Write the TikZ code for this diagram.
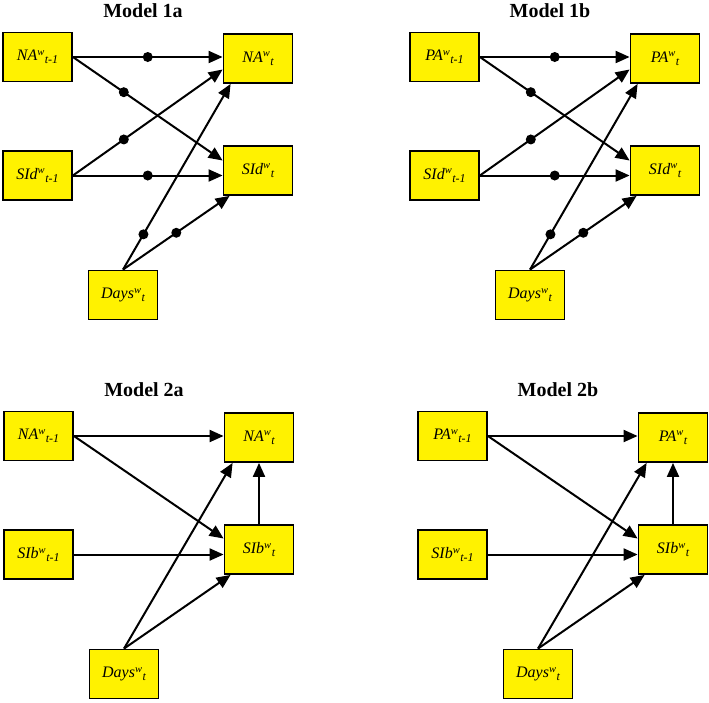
\documentclass[tikz,border=0pt]{standalone}
\usepackage{fontspec}
\setmainfont{Liberation Serif}
\usetikzlibrary{arrows.meta,calc}
\newcommand{\vlab}[2]{\textit{#1\raisebox{5.5pt}{\fontsize{10.5}{10.5}\selectfont w}\kern0.5pt\raisebox{-3pt}{\fontsize{12}{12}\selectfont #2}}}
\tikzset{
  box/.style={draw=black, line width=1.8pt, fill=yellow, minimum width=69pt, minimum height=49pt, inner sep=0pt, font=\fontsize{16}{16}\selectfont},
  arr/.style={line width=2pt, -{Triangle[length=14pt,width=12pt]}},
  dot/.style={circle, fill=black, inner sep=0pt, minimum size=10pt},
  ttl/.style={font=\bfseries\fontsize{20}{20}\selectfont}
}
\newcommand{\panelnodes}[6]{%
  \begin{scope}[shift={(#2,#3)}]
    \node[ttl] (#1T) at (143,11) {#6};
    \node[box] (#1A1) at (37.5,57) {\vlab{#4}{t-1}};
    \node[box] (#1A2) at (258,58.5) {\vlab{#4}{t}};
    \node[box] (#1S1) at (37.5,175.5) {\vlab{SI#5}{t-1}};
    \node[box] (#1S2) at (258,170.5) {\vlab{SI#5}{t}};
    \node[box] (#1D) at (123,295) {\vlab{Days}{t}};
  \end{scope}}
\newcommand{\topedges}[1]{%
  \draw[arr] (#1A1.east) -- node[dot]{} (#1A1.east -| #1A2.west);
  \draw[arr] (#1A1.east) -- node[dot,pos=0.34]{} ($(#1S2.west)+(0,-10)$);
  \draw[arr] (#1S1.east) -- node[dot,pos=0.34]{} ($(#1A2.west)+(0,11)$);
  \draw[arr] (#1S1.east) -- node[dot]{} (#1S1.east -| #1S2.west);
  \draw[arr] (#1D.north) -- node[dot,pos=0.19]{} ($(#1A2.south west)+(8,0)$);
  \draw[arr] (#1D.north) -- node[dot,pos=0.5]{} ($(#1S2.south west)+(7,0)$);}
\newcommand{\botedges}[1]{%
  \draw[arr] (#1A1.east) -- (#1A1.east -| #1A2.west);
  \draw[arr] (#1A1.east) -- ($(#1S2.west)+(0,-11)$);
  \draw[arr] (#1S1.east) -- (#1S1.east -| #1S2.west);
  \draw[arr] (#1D.north) -- ($(#1A2.south west)+(9,0)$);
  \draw[arr] (#1D.north) -- ($(#1S2.south west)+(7,0)$);
  \draw[arr] (#1S2.north) -- (#1A2.south);}
\begin{document}
\begin{tikzpicture}[x=1pt,y=-1pt]
  \fill[white] (0,0) rectangle (709,702);
  \useasboundingbox (0,0) rectangle (709,702);
  \panelnodes{a}{0}{0}{NA}{d}{Model 1a}
  \panelnodes{b}{407}{0}{PA}{d}{Model 1b}
  \panelnodes{c}{1}{379}{NA}{b}{Model 2a}
  \panelnodes{e}{415}{379}{PA}{b}{Model 2b}
  \topedges{a}
  \topedges{b}
  \botedges{c}
  \botedges{e}
\end{tikzpicture}
\end{document}
